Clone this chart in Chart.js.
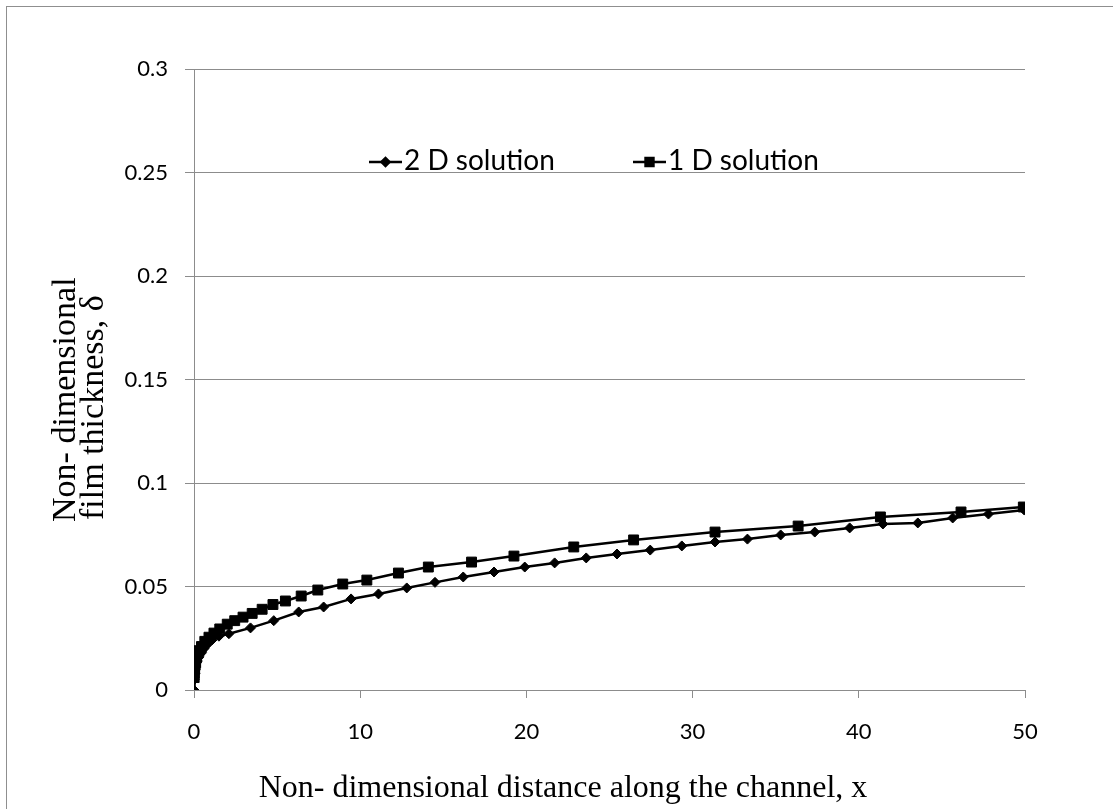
<!DOCTYPE html>
<html>
<head>
<meta charset="utf-8">
<script src="https://cdn.jsdelivr.net/npm/chart.js@4/dist/chart.umd.min.js"></script>
<style>
  html, body { margin: 0; padding: 0; background: #fff; overflow: hidden; }
  #wrap { position: relative; width: 1113px; height: 809px; }
  #frame { position: absolute; left: 6px; top: 6px; width: 1200px; height: 900px; border: 1px solid #8f8f8f; }
  canvas { position: absolute; left: 0; top: 0; }
</style>
</head>
<body>
<div id="wrap">
  <div id="frame"></div>
  <canvas id="grafico" width="1113" height="809"></canvas>
</div>
<script>
// 2 D solution
const x2D = [0, 0.02, 0.05, 0.1, 0.2, 0.3, 0.45, 0.6, 0.8, 1.1, 1.5, 2.1, 3.4, 4.8, 6.3, 7.8, 9.45, 11.1, 12.8,
  14.5, 16.2, 18.05, 19.9, 21.7, 23.6, 25.45, 27.45, 29.35, 31.35, 33.3, 35.3, 37.35, 39.45, 41.45, 43.55, 45.65, 47.8, 49.95];
const y2D = [0, 0.005, 0.008, 0.011, 0.014, 0.016, 0.018, 0.02, 0.022, 0.0243, 0.026, 0.0272, 0.030, 0.0335, 0.0377,
  0.0401, 0.044, 0.0464, 0.0493, 0.052, 0.0546, 0.057, 0.0594, 0.0614, 0.0638, 0.0657, 0.0676, 0.0696, 0.0715,
  0.0729, 0.0749, 0.0763, 0.0783, 0.0802, 0.0807, 0.0831, 0.085, 0.087];

// 1 D solution
const x1D = [0.01, 0.02, 0.04, 0.07, 0.1, 0.15, 0.22, 0.3, 0.45, 0.65, 0.9, 1.2, 1.55, 2.0, 2.45, 2.95, 3.5, 4.1,
  4.75, 5.5, 6.45, 7.45, 8.95, 10.4, 12.3, 14.1, 16.7, 19.25, 22.85, 26.45, 31.35, 36.35, 41.3, 46.15, 49.9];
const y1D = [0.006, 0.008, 0.01, 0.012, 0.0135, 0.0155, 0.0175, 0.019, 0.021, 0.0235, 0.0255, 0.0275, 0.0295, 0.0318,
  0.0335, 0.0352, 0.037, 0.039, 0.0413, 0.043, 0.0454, 0.0483, 0.0512, 0.0531, 0.0565, 0.0594, 0.0618, 0.0647,
  0.0691, 0.0725, 0.0763, 0.0792, 0.0836, 0.086, 0.0884];

const nomes = ["2 D solution", "1 D solution"];
const tituloX = "Non- dimensional distance along the channel, x";
const tituloY = ["Non- dimensional", "film thickness, \u03b4"];

function pontos(xs, ys) {
    return xs.map((x, i) => ({ x: x, y: ys[i] }));
}

const cinza = "#8c8c8c";

// legenda dentro da area do grafico e titulos dos eixos
const textosExtras = {
    id: "textosExtras",
    afterDraw(chart) {
        const { ctx, chartArea } = chart;
        const posicoes = [175, 439];
        const yLeg = chartArea.top + 93;
        ctx.save();
        chart.data.datasets.forEach((ds, i) => {
            const x0 = chartArea.left + posicoes[i];
            ctx.strokeStyle = ds.borderColor;
            ctx.lineWidth = 2.5;
            ctx.beginPath();
            ctx.moveTo(x0, yLeg);
            ctx.lineTo(x0 + 33, yLeg);
            ctx.stroke();
            ctx.fillStyle = ds.pointBackgroundColor;
            Chart.helpers.drawPoint(ctx, {
                pointStyle: ds.pointStyle,
                radius: ds.pointRadius * 0.8,
                borderWidth: ds.pointBorderWidth,
                rotation: 0
            }, x0 + 16.5, yLeg);
            ctx.fillStyle = "#000";
            ctx.font = "28px Lato";
            ctx.textBaseline = "middle";
            ctx.textAlign = "left";
            ctx.fillText(ds.label, x0 + 35, yLeg - 1);
        });

        // eixo x
        ctx.font = "32px 'Liberation Serif'";
        ctx.textAlign = "center";
        ctx.textBaseline = "alphabetic";
        ctx.fillText(tituloX, chartArea.left + 369, 797);

        // eixo y, duas linhas giradas
        ctx.font = "34px 'Liberation Serif'";
        ctx.textAlign = "left";
        tituloY.forEach((linha, i) => {
            ctx.save();
            ctx.translate(75 + i * 28, 522 - i * 2);
            ctx.rotate(-Math.PI / 2);
            ctx.fillText(linha, 0, 0);
            ctx.restore();
        });
        ctx.restore();
    }
};

new Chart(document.getElementById("grafico"), {
    type: "line",
    data: {
        datasets: [{
            label: nomes[0],
            data: pontos(x2D, y2D),
            borderColor: "#000",
            backgroundColor: "#000",
            pointBackgroundColor: "#000",
            pointBorderColor: "#000",
            borderWidth: 2.5,
            pointStyle: "rectRot",
            pointRadius: 5,
            pointBorderWidth: 1,
            tension: 0
        }, {
            label: nomes[1],
            data: pontos(x1D, y1D),
            borderColor: "#000",
            backgroundColor: "#000",
            pointBackgroundColor: "#000",
            pointBorderColor: "#000",
            borderWidth: 2.5,
            pointStyle: "rect",
            pointRadius: 7,
            pointBorderWidth: 1,
            tension: 0
        }]
    },
    options: {
        responsive: false,
        animation: false,
        layout: { padding: { left: 0, right: 88, top: 69, bottom: 0 } },
        plugins: {
            legend: { display: false },
            tooltip: { enabled: false }
        },
        scales: {
            x: {
                type: "linear",
                min: 0,
                max: 50,
                ticks: {
                    stepSize: 10,
                    color: "#000",
                    font: { family: "Lato", size: 22 },
                    padding: 21,
                    maxRotation: 0
                },
                grid: { drawOnChartArea: false, drawTicks: true, tickLength: 8, color: cinza },
                border: { color: cinza, width: 1 },
                afterFit(scale) { scale.height = 119; }
            },
            y: {
                min: 0,
                max: 0.3,
                ticks: {
                    stepSize: 0.05,
                    color: "#000",
                    font: { family: "Lato", size: 22 },
                    padding: 17,
                    callback: v => String(+v.toFixed(2))
                },
                grid: { color: cinza, tickLength: 9 },
                border: { color: cinza, width: 1 },
                afterFit(scale) { scale.width = 194; }
            }
        }
    },
    plugins: [textosExtras]
});
</script>
</body>
</html>
